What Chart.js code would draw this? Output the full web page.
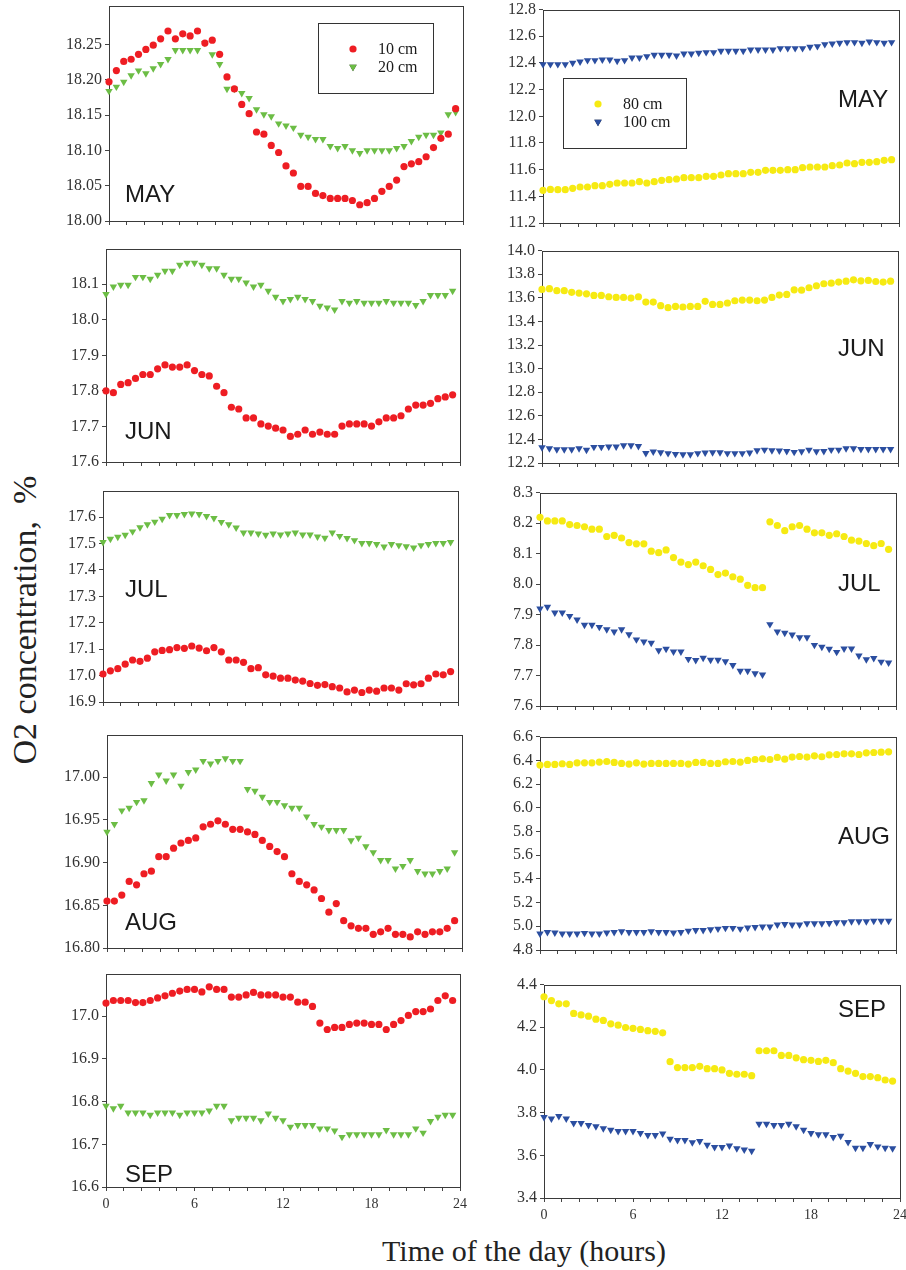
<!DOCTYPE html>
<html>
<head>
<meta charset="utf-8">
<script src="https://cdn.jsdelivr.net/npm/chart.js@4.4.0/dist/chart.umd.min.js"></script>
<style>
  body { margin: 0; background: #fff; width: 906px; height: 1270px; position: relative; overflow: hidden; }
  canvas { position: absolute; }
  .ttl { position: absolute; font-family: "Liberation Serif", "Times New Roman", serif; color: #222; white-space: nowrap; }
</style>
</head>
<body>
<div class="ttl" style="font-size:34px;left:25px;top:620px;transform:translate(-50%,-50%) rotate(-90deg)">O2 concentration,&nbsp; %</div>
<div class="ttl" style="font-size:30px;left:524px;top:1251px;transform:translate(-50%,-50%)">Time of the day (hours)</div>
<script>
// sampling times (half-hourly)
const hours = [0,0.5,1,1.5,2,2.5,3,3.5,4,4.5,5,5.5,6,6.5,7,7.5,8,8.5,9,9.5,10,10.5,11,11.5,
               12,12.5,13,13.5,14,14.5,15,15.5,16,16.5,17,17.5,18,18.5,19,19.5,20,20.5,21,21.5,22,22.5,23,23.5];
const hourTicks = [0,1.2,2.4,3.6,4.8,6,7.2,8.4,9.6,10.8,12,13.2,14.4,15.6,16.8,18,19.2,20.4,21.6,22.8,24];
const hourLabels = [0,6,12,18,24];

// MAY
const may10 = [18.197,18.213,18.226,18.229,18.236,18.243,18.249,18.258,18.269,18.258,18.265,18.262,18.269,18.252,18.256,18.236,18.204,18.187,18.165,18.152,18.126,18.123,18.107,18.097,18.078,18.068,18.049,18.049,18.039,18.036,18.032,18.032,18.032,18.029,18.023,18.026,18.032,18.042,18.049,18.058,18.077,18.081,18.084,18.091,18.104,18.117,18.123,18.159];
const may20 = [18.184,18.190,18.197,18.206,18.213,18.209,18.216,18.222,18.229,18.242,18.242,18.242,18.242,18.252,18.236,18.222,18.187,18.187,18.181,18.174,18.158,18.151,18.148,18.138,18.135,18.132,18.122,18.119,18.116,18.116,18.106,18.103,18.106,18.100,18.096,18.100,18.100,18.100,18.100,18.103,18.106,18.113,18.119,18.122,18.122,18.125,18.151,18.154];
const may80 = [11.445,11.452,11.45,11.45,11.46,11.47,11.47,11.48,11.48,11.49,11.50,11.50,11.50,11.51,11.50,11.51,11.52,11.525,11.53,11.54,11.54,11.54,11.55,11.55,11.56,11.57,11.57,11.57,11.58,11.58,11.595,11.595,11.595,11.60,11.60,11.615,11.62,11.62,11.62,11.63,11.635,11.65,11.645,11.655,11.655,11.66,11.67,11.675];
const may100 = [12.39,12.39,12.39,12.39,12.40,12.41,12.42,12.42,12.425,12.425,12.415,12.42,12.44,12.44,12.45,12.46,12.46,12.46,12.455,12.47,12.47,12.475,12.48,12.48,12.49,12.49,12.49,12.49,12.50,12.50,12.50,12.50,12.51,12.51,12.51,12.51,12.52,12.525,12.54,12.545,12.55,12.555,12.555,12.55,12.56,12.555,12.55,12.555];
// JUN
const jun10 = [17.80,17.795,17.818,17.823,17.835,17.846,17.846,17.862,17.873,17.867,17.867,17.873,17.857,17.846,17.842,17.813,17.795,17.754,17.749,17.724,17.724,17.707,17.701,17.695,17.69,17.672,17.678,17.69,17.678,17.684,17.678,17.678,17.701,17.707,17.707,17.707,17.701,17.713,17.724,17.724,17.73,17.749,17.76,17.76,17.765,17.778,17.783,17.789];
const jun20 = [18.072,18.093,18.098,18.098,18.12,18.12,18.115,18.126,18.137,18.137,18.154,18.16,18.16,18.154,18.144,18.144,18.126,18.115,18.115,18.104,18.093,18.098,18.081,18.064,18.052,18.058,18.064,18.058,18.052,18.039,18.034,18.028,18.052,18.047,18.052,18.047,18.047,18.047,18.052,18.047,18.047,18.047,18.041,18.052,18.069,18.069,18.069,18.081];
const jun80 = [13.671,13.677,13.66,13.66,13.646,13.64,13.634,13.62,13.62,13.609,13.603,13.603,13.598,13.609,13.564,13.564,13.533,13.516,13.527,13.522,13.527,13.527,13.57,13.544,13.544,13.556,13.575,13.581,13.581,13.575,13.581,13.603,13.623,13.629,13.668,13.665,13.685,13.702,13.719,13.724,13.733,13.741,13.752,13.744,13.747,13.738,13.733,13.741];
const jun100 = [12.332,12.324,12.315,12.315,12.315,12.324,12.31,12.335,12.335,12.338,12.338,12.349,12.349,12.343,12.284,12.296,12.29,12.282,12.276,12.273,12.273,12.282,12.287,12.29,12.29,12.282,12.282,12.282,12.287,12.307,12.312,12.307,12.304,12.301,12.293,12.298,12.312,12.298,12.301,12.312,12.312,12.324,12.324,12.318,12.318,12.318,12.318,12.318];
// JUL
const jul10 = [17.006,17.018,17.026,17.043,17.059,17.054,17.066,17.09,17.095,17.098,17.106,17.103,17.112,17.104,17.094,17.106,17.09,17.059,17.059,17.05,17.026,17.03,17.003,16.998,16.99,16.99,16.983,16.979,16.97,16.963,16.966,16.958,16.953,16.938,16.945,16.936,16.945,16.941,16.953,16.953,16.945,16.969,16.965,16.969,16.99,17.006,17.003,17.015];
const jul20 = [17.505,17.517,17.525,17.532,17.545,17.561,17.572,17.582,17.593,17.607,17.607,17.611,17.613,17.611,17.603,17.596,17.581,17.572,17.56,17.541,17.541,17.537,17.532,17.537,17.533,17.537,17.541,17.533,17.533,17.526,17.521,17.541,17.528,17.52,17.512,17.501,17.501,17.497,17.488,17.497,17.493,17.489,17.484,17.493,17.497,17.501,17.501,17.505];
const jul80 = [8.219,8.207,8.207,8.207,8.195,8.192,8.188,8.18,8.18,8.156,8.16,8.151,8.136,8.132,8.132,8.108,8.103,8.112,8.087,8.072,8.064,8.072,8.06,8.048,8.031,8.036,8.024,8.016,7.996,7.988,7.988,8.204,8.192,8.175,8.188,8.192,8.18,8.168,8.168,8.16,8.165,8.156,8.144,8.141,8.133,8.126,8.133,8.114];
const jul100 = [7.919,7.925,7.906,7.906,7.895,7.883,7.866,7.866,7.859,7.851,7.844,7.851,7.835,7.818,7.811,7.807,7.782,7.787,7.778,7.778,7.754,7.75,7.758,7.751,7.751,7.746,7.734,7.715,7.715,7.707,7.703,7.868,7.844,7.84,7.834,7.825,7.825,7.8,7.794,7.787,7.777,7.788,7.788,7.765,7.753,7.757,7.745,7.742];
// AUG
const aug10 = [16.855,16.855,16.862,16.878,16.874,16.887,16.890,16.907,16.907,16.917,16.923,16.926,16.929,16.942,16.945,16.949,16.945,16.939,16.939,16.936,16.933,16.926,16.919,16.913,16.907,16.887,16.878,16.874,16.868,16.858,16.842,16.852,16.832,16.826,16.823,16.823,16.816,16.819,16.823,16.816,16.816,16.813,16.819,16.816,16.819,16.819,16.823,16.832];
const aug20 = [16.936,16.945,16.961,16.964,16.971,16.973,16.993,17.003,16.996,17.003,16.99,17.006,17.009,17.019,17.016,17.019,17.022,17.019,17.019,16.986,16.984,16.977,16.971,16.971,16.967,16.964,16.964,16.954,16.945,16.942,16.938,16.938,16.938,16.926,16.929,16.919,16.912,16.903,16.903,16.893,16.896,16.903,16.89,16.887,16.887,16.89,16.893,16.912];
const aug80 = [6.36,6.365,6.365,6.371,6.365,6.379,6.379,6.379,6.385,6.39,6.382,6.374,6.368,6.379,6.368,6.374,6.374,6.374,6.374,6.374,6.368,6.382,6.382,6.374,6.374,6.388,6.39,6.385,6.399,6.407,6.413,6.407,6.424,6.41,6.427,6.432,6.427,6.438,6.43,6.446,6.449,6.455,6.455,6.449,6.463,6.466,6.469,6.472];
const aug100 = [4.937,4.951,4.946,4.937,4.937,4.937,4.943,4.937,4.937,4.946,4.951,4.957,4.951,4.951,4.951,4.957,4.951,4.951,4.946,4.951,4.962,4.968,4.968,4.974,4.979,4.985,4.985,4.979,4.988,4.993,4.996,4.996,5.013,5.018,5.013,5.013,5.024,5.024,5.024,5.027,5.032,5.032,5.041,5.041,5.041,5.046,5.046,5.046];
// SEP
const sep10 = [17.031,17.037,17.037,17.037,17.032,17.032,17.037,17.043,17.048,17.054,17.059,17.063,17.063,17.057,17.069,17.063,17.063,17.045,17.045,17.05,17.056,17.05,17.05,17.05,17.045,17.045,17.033,17.033,17.023,16.984,16.969,16.974,16.974,16.981,16.984,16.984,16.981,16.981,16.969,16.981,16.99,17.002,17.011,17.011,17.017,17.037,17.048,17.037];
const sep20 = [16.79,16.784,16.79,16.774,16.774,16.774,16.769,16.774,16.774,16.774,16.769,16.774,16.774,16.774,16.779,16.79,16.79,16.756,16.762,16.762,16.762,16.756,16.772,16.762,16.756,16.741,16.745,16.745,16.745,16.737,16.737,16.732,16.717,16.723,16.723,16.723,16.723,16.723,16.733,16.723,16.723,16.723,16.737,16.727,16.754,16.764,16.769,16.769];
const sep80 = [4.343,4.325,4.31,4.31,4.265,4.258,4.252,4.238,4.232,4.216,4.21,4.199,4.195,4.19,4.184,4.181,4.174,4.039,4.011,4.011,4.011,4.017,4.006,4.006,4.0,3.984,3.98,3.98,3.973,4.09,4.09,4.09,4.068,4.068,4.057,4.048,4.045,4.04,4.045,4.034,4.006,3.995,3.984,3.969,3.969,3.964,3.953,3.948];
const sep100 = [3.779,3.772,3.783,3.772,3.751,3.751,3.741,3.735,3.726,3.719,3.713,3.713,3.713,3.704,3.694,3.694,3.701,3.677,3.671,3.671,3.66,3.666,3.649,3.638,3.638,3.645,3.632,3.626,3.621,3.747,3.747,3.741,3.741,3.747,3.735,3.719,3.704,3.698,3.698,3.685,3.691,3.662,3.635,3.635,3.652,3.641,3.635,3.632];

// y tick values per panel
const mayLeftTicks = [18.00,18.05,18.10,18.15,18.20,18.25];
const mayRightTicks = [11.2,11.4,11.6,11.8,12.0,12.2,12.4,12.6,12.8];
const junLeftTicks = [17.6,17.7,17.8,17.9,18.0,18.1];
const junRightTicks = [12.2,12.4,12.6,12.8,13.0,13.2,13.4,13.6,13.8,14.0];
const julLeftTicks = [16.9,17.0,17.1,17.2,17.3,17.4,17.5,17.6];
const julRightTicks = [7.6,7.7,7.8,7.9,8.0,8.1,8.2,8.3];
const augLeftTicks = [16.80,16.85,16.90,16.95,17.00];
const augRightTicks = [4.8,5.0,5.2,5.4,5.6,5.8,6.0,6.2,6.4,6.6];
const sepLeftTicks = [16.6,16.7,16.8,16.9,17.0];
const sepRightTicks = [3.4,3.6,3.8,4.0,4.2,4.4];

// marker styles
const red = { pointStyle: 'circle', pointRadius: 3.6, pointBackgroundColor: '#ee1d23', pointBorderWidth: 0 };
const green = { pointStyle: 'triangle', pointRotation: 180, pointRadius: 4.3, pointBackgroundColor: '#6cbd45', pointBorderWidth: 0 };
const yellow = { pointStyle: 'circle', pointRadius: 3.6, pointBackgroundColor: '#f6ea12', pointBorderWidth: 0 };
const blue = { pointStyle: 'triangle', pointRotation: 180, pointRadius: 4.3, pointBackgroundColor: '#2b4ea0', pointBorderWidth: 0 };

const SERIF = '"Liberation Serif", "Times New Roman", serif';
const SANS = '"Liberation Sans", Arial, sans-serif';
const PAD_L = 62, PAD_T = 12, PAD_R = 12, PAD_B = 36;

const leftPair = (a, b) => [{ label: '10 cm', data: a, style: red }, { label: '20 cm', data: b, style: green }];
const rightPair = (a, b) => [{ label: '80 cm', data: a, style: yellow }, { label: '100 cm', data: b, style: blue }];

// plot boxes [left, top, right, bottom] in page pixels
const panels = [
  { box: [109, 5, 463, 221], min: 18.0, max: 18.305, ticks: mayLeftTicks, dec: 2, series: leftPair(may10, may20), month: ['MAY', 125, 202], legend: [318, 23, 115, 70] },
  { box: [543, 9, 899, 223], min: 11.2, max: 12.8, ticks: mayRightTicks, dec: 1, series: rightPair(may80, may100), month: ['MAY', 838, 107], legend: [563, 78, 123, 70] },
  { box: [106, 248, 460, 462], min: 17.6, max: 18.2, ticks: junLeftTicks, dec: 1, series: leftPair(jun10, jun20), month: ['JUN', 125, 439] },
  { box: [542, 250, 898, 463], min: 12.2, max: 14.0, ticks: junRightTicks, dec: 1, series: rightPair(jun80, jun100), month: ['JUN', 838, 356] },
  { box: [103, 490, 458, 702], min: 16.9, max: 17.7, ticks: julLeftTicks, dec: 1, series: leftPair(jul10, jul20), month: ['JUL', 125, 597] },
  { box: [540, 492, 896, 706], min: 7.6, max: 8.3, ticks: julRightTicks, dec: 1, series: rightPair(jul80, jul100), month: ['JUL', 838, 591] },
  { box: [107, 734, 462, 948], min: 16.8, max: 17.05, ticks: augLeftTicks, dec: 2, series: leftPair(aug10, aug20), month: ['AUG', 125, 930] },
  { box: [540, 736, 896, 950], min: 4.8, max: 6.6, ticks: augRightTicks, dec: 1, series: rightPair(aug80, aug100), month: ['AUG', 838, 844] },
  { box: [106, 973, 460, 1187], min: 16.6, max: 17.1, ticks: sepLeftTicks, dec: 1, series: leftPair(sep10, sep20), month: ['SEP', 125, 1182], xLabels: true },
  { box: [544, 984, 900, 1198], min: 3.4, max: 4.4, ticks: sepRightTicks, dec: 1, series: rightPair(sep80, sep100), month: ['SEP', 838, 1017], xLabels: true }
];

// frame around plot area, month text and boxed legend
const panelDecor = {
  id: 'panelDecor',
  beforeDatasetsDraw(chart, args, o) {
    const { ctx, chartArea: a } = chart;
    ctx.save();
    ctx.strokeStyle = '#3a3a3a';
    ctx.lineWidth = 1;
    ctx.strokeRect(Math.round(a.left) + 0.5, Math.round(a.top) + 0.5, Math.round(a.right - a.left), Math.round(a.bottom - a.top));
    ctx.restore();
  },
  afterDatasetsDraw(chart, args, o) {
    const ctx = chart.ctx;
    ctx.save();
    const [txt, mx, my] = o.month;
    ctx.font = '24px ' + SANS;
    ctx.fillStyle = '#1a1a1a';
    ctx.textBaseline = 'alphabetic';
    ctx.fillText(txt, mx - o.ox, my - o.oy);
    if (o.legend) {
      const [lx, ly, lw, lh] = o.legend;
      const x0 = lx - o.ox, y0 = ly - o.oy;
      ctx.fillStyle = '#fff';
      ctx.fillRect(x0, y0, lw, lh);
      ctx.strokeStyle = '#333';
      ctx.lineWidth = 1;
      ctx.strokeRect(Math.round(x0) + 0.5, Math.round(y0) + 0.5, lw, lh);
      chart.data.datasets.forEach((ds, i) => {
        const cy = y0 + 26 + i * 18;
        Chart.helpers.drawPoint(ctx, {
          pointStyle: ds.pointStyle, radius: ds.pointRadius, rotation: ds.pointRotation || 0, borderWidth: 0
        }, x0 + 35, cy);
        ctx.fillStyle = ds.pointBackgroundColor;
        ctx.fill();
        ctx.fillStyle = '#1a1a1a';
        ctx.font = '16px ' + SERIF;
        ctx.textBaseline = 'middle';
        ctx.fillText(ds.label, x0 + 60, cy + 1);
      });
    }
    ctx.restore();
  }
};

panels.forEach(p => {
  const [l, t, r, b] = p.box;
  const cv = document.createElement('canvas');
  const ox = l - PAD_L, oy = t - PAD_T;
  cv.width = r - l + PAD_L + PAD_R;
  cv.height = b - t + PAD_T + PAD_B;
  cv.style.left = ox + 'px';
  cv.style.top = oy + 'px';
  document.body.appendChild(cv);

  new Chart(cv.getContext('2d'), {
    type: 'scatter',
    data: {
      datasets: p.series.map(s => Object.assign({
        label: s.label,
        data: hours.map((h, i) => ({ x: h, y: s.data[i] })),
        clip: false
      }, s.style))
    },
    options: {
      responsive: false,
      animation: false,
      layout: { padding: { top: PAD_T, right: PAD_R, left: 0, bottom: 0 } },
      plugins: {
        legend: { display: false },
        tooltip: { enabled: false },
        panelDecor: { month: p.month, legend: p.legend, ox: ox, oy: oy }
      },
      scales: {
        x: {
          type: 'linear', min: 0, max: 24,
          afterFit: a => { a.height = PAD_B; },
          afterBuildTicks: a => { a.ticks = hourTicks.map(v => ({ value: v })); },
          ticks: {
            autoSkip: false, maxRotation: 0, padding: 5, color: '#333',
            font: { family: SERIF, size: 14 },
            callback: v => (p.xLabels && hourLabels.includes(v)) ? String(v) : ''
          },
          grid: { drawOnChartArea: false, tickLength: 4, color: '#444' },
          border: { display: false }
        },
        y: {
          min: p.min, max: p.max,
          afterFit: a => { a.width = PAD_L; },
          afterBuildTicks: a => { a.ticks = p.ticks.map(v => ({ value: v })); },
          ticks: {
            autoSkip: false, padding: 3, color: '#333',
            font: { family: SERIF, size: 16 },
            callback: v => Number(v).toFixed(p.dec)
          },
          grid: { drawOnChartArea: false, tickLength: 4, color: '#444' },
          border: { display: false }
        }
      }
    },
    plugins: [panelDecor]
  });
});
</script>
</body>
</html>
